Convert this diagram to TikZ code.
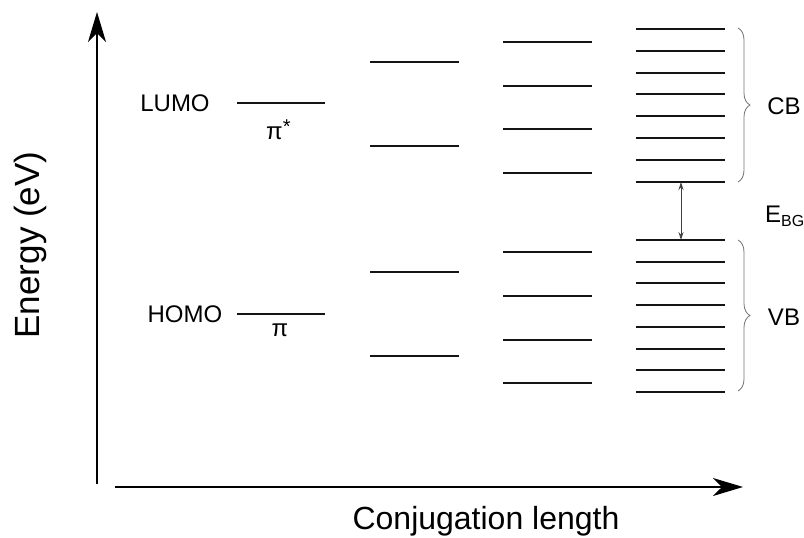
\documentclass[tikz,border=0pt]{standalone}
\usepackage{fontspec}
\setmainfont{Liberation Sans}
\usetikzlibrary{arrows.meta,decorations.pathreplacing}

\begin{document}
\begin{tikzpicture}[x=1pt,y=-1pt,
  level/.style={line width=2pt,draw=black!92},
  axis/.style={line width=1.5pt,-{Stealth[length=30pt,width=18pt,inset=9pt]}},
  gap/.style={line width=0.8pt,draw=black!75,{Stealth[length=8pt,width=5pt]}-{Stealth[length=8pt,width=5pt]}},
  band/.style={decorate,decoration={brace,amplitude=12pt},line width=0.8pt,draw=black!55},
  lbl/.style={font=\fontsize{24}{28}\selectfont,inner sep=0pt},
  axlbl/.style={font=\fontsize{32}{36}\selectfont,inner sep=0pt},
  orb/.style={font=\fontsize{24}{28}\selectfont,inner sep=0pt}]
\useasboundingbox (0,0) rectangle (804,538);

% axes
\coordinate (yb) at (97,484);
\coordinate (yt) at (97,12);
\coordinate (xl) at (115,487);
\coordinate (xr) at (743,487);
\draw[axis] (yb) -- (yt);
\draw[axis] (xl) -- (xr);
\node[axlbl,rotate=90,font=\fontsize{35}{40}\selectfont] (ylab) at (30,245) {Energy (eV)};
\node[axlbl] (xlab) at (486,521) {Conjugation length};

% single molecule: HOMO / LUMO
\draw[level] (237,103) -- (325,103);
\draw[level] (237,314) -- (325,314);
\node[lbl] (lumo) at (175,103) {LUMO};
\node[lbl] (homo) at (185,314) {HOMO};
\node[orb,anchor=west] (pistar) at (266,130) {π\raisebox{6pt}{\fontsize{20}{20}\selectfont *}};
\node[orb] (pi) at (280,330) {π};

% two units
\foreach \y in {62,146,272,356}
  \draw[level] (370,\y) -- (459,\y);

% four units
\foreach \y in {42,86,129,173,252,296,340,383}
  \draw[level] (503,\y) -- (592,\y);

% long chain: conduction and valence bands
\foreach \y in {29,51,73,94,116,138,160,182}
  \draw[level] (636,\y) -- (725,\y);
\foreach \y in {240,262,283,305,327,349,370,392}
  \draw[level] (636,\y) -- (725,\y);

% band gap
\coordinate (cbmin) at (681,182);
\coordinate (vbmax) at (681,240);
\draw[gap] (cbmin) -- (vbmax);
\node[lbl,anchor=west] (ebg) at (765,216) {E\textsubscript{\fontsize{16}{18}\selectfont BG}};

% band braces
\draw[band] (738,28) -- (738,182);
\draw[band] (738,240) -- (738,391);
\node[lbl] (cb) at (784,106) {CB};
\node[lbl] (vb) at (784,317) {VB};
\end{tikzpicture}
\end{document}
